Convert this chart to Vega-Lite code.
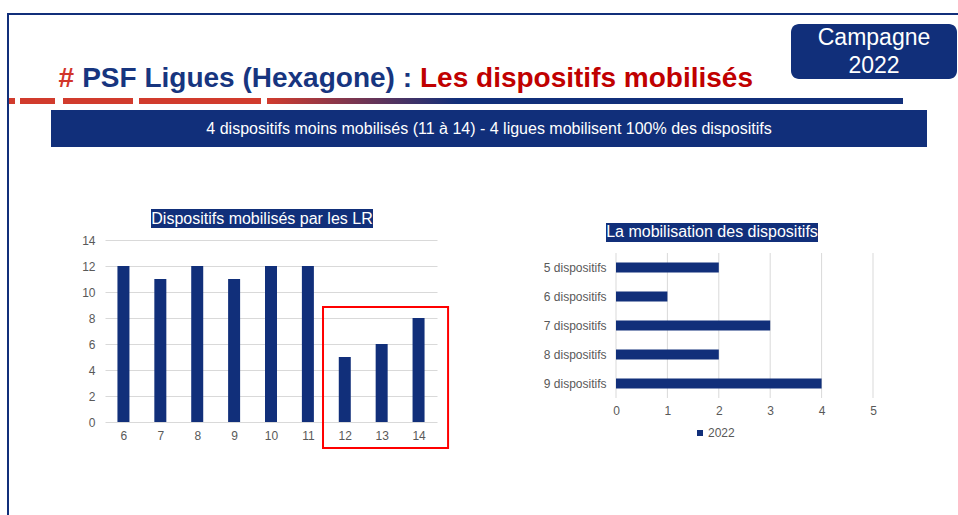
{
  "$schema": "https://vega.github.io/schema/vega-lite/v6.json",
  "background": "white",
  "padding": 0,
  "spacing": 0,
  "vconcat": [
    {"data": {"values": []}, "width": 958, "height": 13, "mark": "point"},
    {"hconcat": [
      {"data": {"values": []}, "width": 7, "height": 2, "mark": "point"},
      {"data": {"values": []}, "width": 951, "height": 2, "view": {"fill": "#112f7a", "stroke": null}, "mark": "point"}
    ], "spacing": 0, "bounds": "flush"},
    {"hconcat": [
      {"data": {"values": []}, "width": 7, "height": 9, "mark": "point"},
      {"data": {"values": []}, "width": 2, "height": 9, "view": {"fill": "#112f7a", "stroke": null}, "mark": "point"}
    ], "spacing": 0, "bounds": "flush"},
    {"hconcat": [
      {"data": {"values": []}, "width": 7, "height": 74, "mark": "point"},
      {"data": {"values": []}, "width": 2, "height": 74, "view": {"fill": "#112f7a", "stroke": null}, "mark": "point"},
      {"data": {"values": []}, "width": 391, "height": 74, "mark": "point"},
      {"data": {"values": [{"s": 1}]}, "width": 40, "height": 74, "layer": [
        {"mark": {"type": "text", "align": "right", "baseline": "alphabetic", "dx": -346, "dy": 26, "fontSize": 28, "fontWeight": "bold", "font": "Liberation Sans", "color": "#d2352a"}, "encoding": {"text": {"value": "#"}}},
        {"mark": {"type": "text", "align": "right", "baseline": "alphabetic", "dx": -8, "dy": 26, "fontSize": 28, "fontWeight": "bold", "font": "Liberation Sans", "color": "#17357f"}, "encoding": {"text": {"value": "PSF Ligues (Hexagone) :"}}},
        {"mark": {"type": "text", "align": "left", "baseline": "alphabetic", "dy": 26, "fontSize": 28, "fontWeight": "bold", "font": "Liberation Sans", "color": "#c00000"}, "encoding": {"text": {"value": "Les dispositifs mobilisés"}}}
      ]},
      {"data": {"values": []}, "width": 351, "height": 74, "mark": "point"},
      {"data": {"values": [{"s": 1}]}, "width": 166, "height": 55, "view": {"fill": "#112f7a", "stroke": null, "cornerRadius": 8}, "mark": {"type": "text", "color": "white", "fontSize": 23, "lineHeight": 28, "baseline": "middle", "dy": -14, "font": "Liberation Sans"}, "encoding": {"text": {"value": ["Campagne", "2022"]}}}
    ], "spacing": 0, "bounds": "flush"},
    {"hconcat": [
      {"data": {"values": []}, "width": 7, "height": 6, "mark": "point"},
      {"data": {"values": []}, "width": 2, "height": 6, "view": {"fill": "#112f7a", "stroke": null}, "mark": "point"},
      {"data": {"values": []}, "width": 6, "height": 6, "view": {"fill": "#d13b2d", "stroke": null}, "mark": "point"},
      {"data": {"values": []}, "width": 5, "height": 6, "mark": "point"},
      {"data": {"values": []}, "width": 35, "height": 6, "view": {"fill": "#d13b2d", "stroke": null}, "mark": "point"},
      {"data": {"values": []}, "width": 8, "height": 6, "mark": "point"},
      {"data": {"values": []}, "width": 70, "height": 6, "view": {"fill": "#d13b2d", "stroke": null}, "mark": "point"},
      {"data": {"values": []}, "width": 6, "height": 6, "mark": "point"},
      {"data": {"values": []}, "width": 122, "height": 6, "view": {"fill": "#d13b2d", "stroke": null}, "mark": "point"},
      {"data": {"values": []}, "width": 6, "height": 6, "mark": "point"},
      {"data": {"values": []}, "width": 636, "height": 6, "view": {"fill": {"gradient": "linear", "x1": 0, "y1": 0, "x2": 1, "y2": 0, "stops": [{"offset": 0, "color": "#d13b2d"}, {"offset": 0.3, "color": "#112f7a"}, {"offset": 1, "color": "#112f7a"}]}, "stroke": null}, "mark": "point"}
    ], "spacing": 0, "bounds": "flush"},
    {"hconcat": [
      {"data": {"values": []}, "width": 7, "height": 6, "mark": "point"},
      {"data": {"values": []}, "width": 2, "height": 6, "view": {"fill": "#112f7a", "stroke": null}, "mark": "point"}
    ], "spacing": 0, "bounds": "flush"},
    {"hconcat": [
      {"data": {"values": []}, "width": 7, "height": 37, "mark": "point"},
      {"data": {"values": []}, "width": 2, "height": 37, "view": {"fill": "#112f7a", "stroke": null}, "mark": "point"},
      {"data": {"values": []}, "width": 42, "height": 37, "mark": "point"},
      {"data": {"values": [{"s": 1}]}, "width": 876, "height": 37, "view": {"fill": "#112f7a", "stroke": null}, "mark": {"type": "text", "color": "white", "fontSize": 16, "baseline": "middle", "font": "Liberation Sans"}, "encoding": {"text": {"value": "4 dispositifs moins mobilisés (11 à 14) - 4 ligues mobilisent 100% des dispositifs"}}}
    ], "spacing": 0, "bounds": "flush"},
    {"hconcat": [
      {"data": {"values": []}, "width": 7, "height": 62, "mark": "point"},
      {"data": {"values": []}, "width": 2, "height": 62, "view": {"fill": "#112f7a", "stroke": null}, "mark": "point"}
    ], "spacing": 0, "bounds": "flush"},
    {"hconcat": [
      {"data": {"values": []}, "width": 7, "height": 306, "mark": "point"},
      {"data": {"values": []}, "width": 2, "height": 306, "view": {"fill": "#112f7a", "stroke": null}, "mark": "point"},
      {"data": {"values": []}, "width": 96, "height": 213, "mark": "point"},
      {"width": 332, "height": 213,
       "data": {"values": [
         {"ligue": 6, "nombre": 12}, {"ligue": 7, "nombre": 11}, {"ligue": 8, "nombre": 12},
         {"ligue": 9, "nombre": 11}, {"ligue": 10, "nombre": 12}, {"ligue": 11, "nombre": 12},
         {"ligue": 12, "nombre": 5}, {"ligue": 13, "nombre": 6}, {"ligue": 14, "nombre": 8}
       ]},
       "layer": [
         {"mark": {"type": "bar", "size": 12, "color": "#112f7a"},
          "encoding": {
            "x": {"field": "ligue", "type": "quantitative", "scale": {"domain": [5.5, 14.5], "nice": false, "zero": false, "padding": 0},
                  "axis": {"values": [6, 7, 8, 9, 10, 11, 12, 13, 14], "tickCount": 30, "format": "d", "grid": false, "labelPadding": 8, "title": null, "labelFlush": false, "labelOverlap": false}},
            "y": {"field": "nombre", "type": "quantitative", "scale": {"domain": [0, 16.385], "nice": false, "padding": 0},
                  "axis": {"values": [0, 2, 4, 6, 8, 10, 12, 14], "tickCount": 30, "format": "d", "grid": true, "labelPadding": 10, "title": null, "labelOverlap": false}}
          }},
         {"data": {"values": [{"s": 1}]},
          "mark": {"type": "rect", "fill": "transparent", "stroke": "#ff0000", "strokeWidth": 2},
          "encoding": {
            "x": {"datum": 11.41, "type": "quantitative"}, "x2": {"datum": 14.8},
            "y": {"datum": 8.846, "type": "quantitative"}, "y2": {"datum": -2.0}
          }},
         {"data": {"values": [{"s": 1}]},
          "mark": {"type": "rect", "color": "#112f7a"},
          "encoding": {
            "x": {"datum": 6.747, "type": "quantitative"}, "x2": {"datum": 12.765},
            "y": {"datum": 16.385, "type": "quantitative"}, "y2": {"datum": 14.923}
          }},
         {"data": {"values": [{"s": 1}]},
          "mark": {"type": "text", "color": "white", "fontSize": 16, "baseline": "middle", "font": "Liberation Sans"},
          "encoding": {
            "x": {"datum": 9.756, "type": "quantitative"},
            "y": {"datum": 15.654, "type": "quantitative"},
            "text": {"value": "Dispositifs mobilisés par les LR"}
          }}
       ]},
      {"data": {"values": []}, "width": 179, "height": 189, "mark": "point"},
      {"width": 257, "height": 189,
       "data": {"values": [
         {"dispositifs": 5, "ligues": 2, "serie": "2022"},
         {"dispositifs": 6, "ligues": 1, "serie": "2022"},
         {"dispositifs": 7, "ligues": 3, "serie": "2022"},
         {"dispositifs": 8, "ligues": 2, "serie": "2022"},
         {"dispositifs": 9, "ligues": 4, "serie": "2022"}
       ]},
       "layer": [
         {"data": {"values": [{"graduation": 0}, {"graduation": 1}, {"graduation": 2}, {"graduation": 3}, {"graduation": 4}, {"graduation": 5}]},
          "mark": {"type": "rule", "color": "#d9d9d9", "strokeWidth": 1},
          "encoding": {
            "x": {"field": "graduation", "type": "quantitative", "scale": {"domain": [0, 5], "nice": false, "padding": 0},
                  "axis": {"values": [0, 1, 2, 3, 4, 5], "tickCount": 30, "format": "d", "grid": false, "labelPadding": 7, "title": null, "labelFlush": false, "labelOverlap": false}},
            "y": {"datum": 4.5, "type": "quantitative", "scale": {"domain": [2.9828, 9.5], "nice": false, "zero": false, "reverse": true, "padding": 0},
                  "axis": {"values": [5, 6, 7, 8, 9], "tickCount": 30, "labelExpr": "datum.value + ' dispositifs'", "grid": false, "labelPadding": 10, "title": null, "labelOverlap": false}},
            "y2": {"datum": 9.5}
          }},
         {"mark": {"type": "bar", "orient": "horizontal", "size": 10},
          "encoding": {
            "y": {"field": "dispositifs", "type": "quantitative", "title": null},
            "x": {"field": "ligues", "type": "quantitative", "title": null},
            "color": {"field": "serie", "type": "nominal", "scale": {"range": ["#112f7a"]},
                      "legend": {"orient": "none", "legendX": 694, "legendY": 427, "title": null, "symbolType": "square", "symbolSize": 36, "labelFontSize": 12, "labelColor": "#595959", "labelOffset": 2, "labelFont": "Liberation Sans"}}
          }},
         {"data": {"values": [{"s": 1}]},
          "mark": {"type": "rect", "color": "#112f7a"},
          "encoding": {
            "x": {"datum": -0.1946, "type": "quantitative"}, "x2": {"datum": 3.93},
            "y": {"datum": 3.4655, "type": "quantitative"}, "y2": {"datum": 4.1207}
          }},
         {"data": {"values": [{"s": 1}]},
          "mark": {"type": "text", "color": "white", "fontSize": 16, "baseline": "middle", "font": "Liberation Sans"},
          "encoding": {
            "x": {"datum": 1.868, "type": "quantitative"},
            "y": {"datum": 3.793, "type": "quantitative"},
            "text": {"value": "La mobilisation des dispositifs"}
          }}
       ]}
    ], "spacing": 0, "bounds": "flush"}
  ],
  "config": {
    "view": {"stroke": null},
    "font": "Liberation Sans",
    "axis": {"labelFont": "Liberation Sans", "labelFontSize": 12, "labelColor": "#595959", "ticks": false, "domain": false, "gridColor": "#d9d9d9", "gridWidth": 1}
  }
}
